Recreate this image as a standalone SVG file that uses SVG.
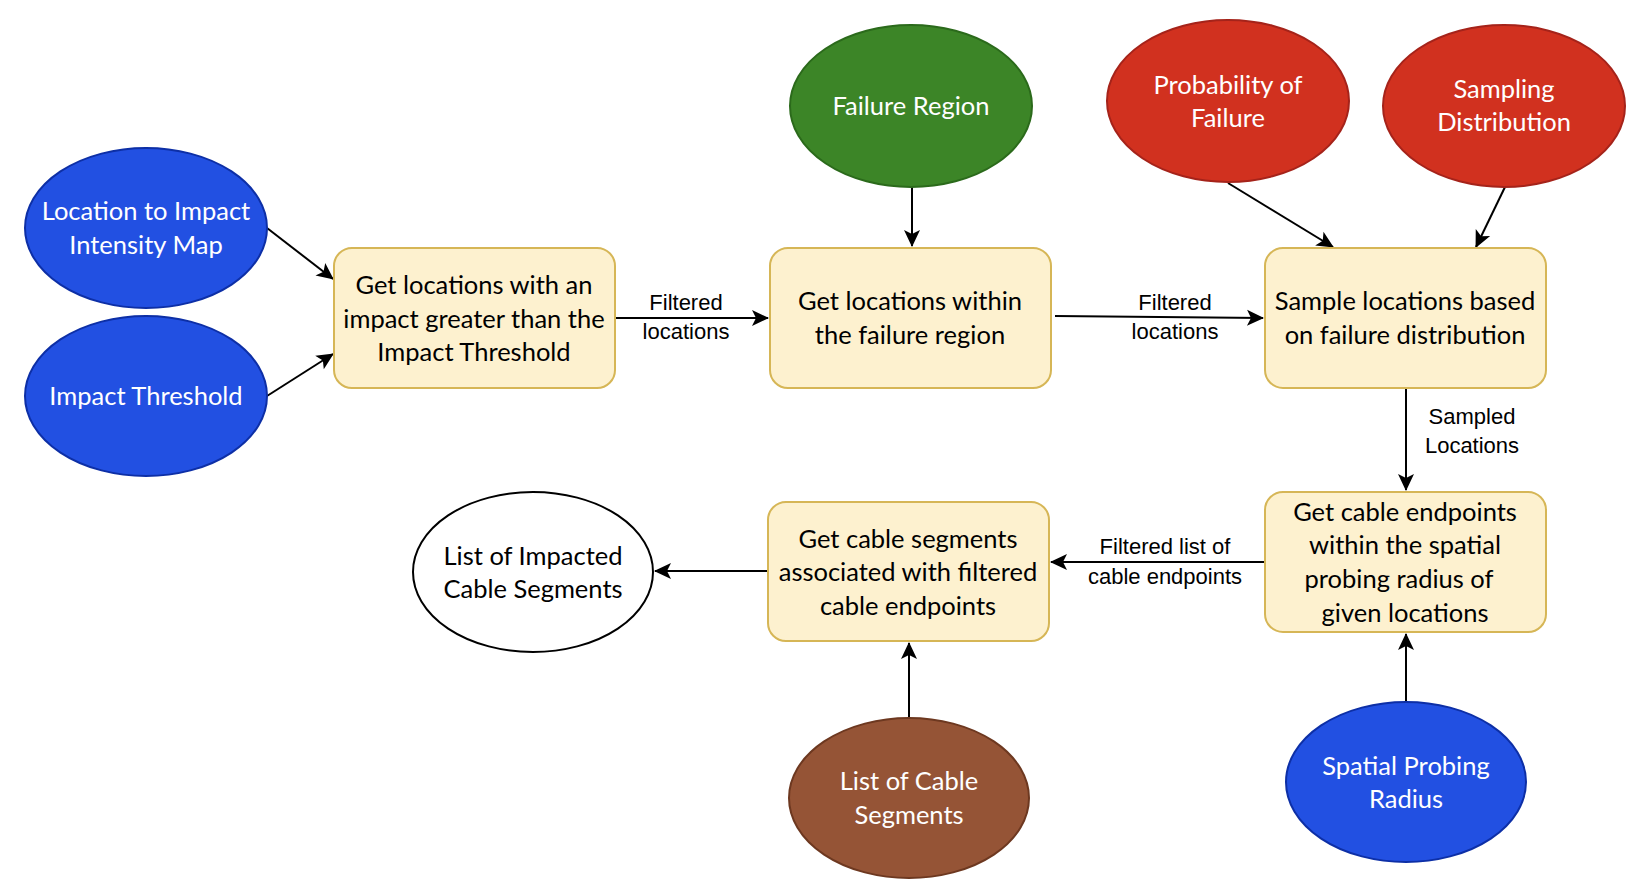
<svg xmlns="http://www.w3.org/2000/svg" width="1638" height="896" viewBox="0 0 1638 896">
<style>
.n{font-family:Lato,"Open Sans","Liberation Sans",sans-serif;font-size:25.5px;text-anchor:middle}
.w{fill:#ffffff}
.k{fill:#000000}
.box{fill:#fdf1cf;stroke:#d6b656;stroke-width:2}
.blue{fill:#2250e2;stroke:#0d2fa6;stroke-width:2}
.red{fill:#d1311f;stroke:#a5231a;stroke-width:2}
.green{fill:#3c8527;stroke:#2b6a1b;stroke-width:2}
.brown{fill:#955436;stroke:#6d3820;stroke-width:2}
.white{fill:#ffffff;stroke:#000000;stroke-width:2}
.e{fill:none;stroke:#000;stroke-width:2;marker-end:url(#a)}
.l{font-family:"Liberation Sans",Arial,sans-serif;font-size:22px;text-anchor:middle;fill:#000}
</style>
<defs>
<marker id="a" viewBox="0 0 10 10" refX="9" refY="5" markerWidth="10" markerHeight="10" markerUnits="userSpaceOnUse" orient="auto" overflow="visible">
<path d="M-7,-3 L10,5 L-7,13 L-3,5 Z" fill="#000"/>
</marker>
</defs>
<rect width="1638" height="896" fill="#fff"/>
<g id="connectors">
<line class="e" x1="267" y1="228" x2="333" y2="279"/>
<line class="e" x1="267" y1="396" x2="333" y2="354"/>
<line class="e" x1="615" y1="318" x2="768" y2="318"/>
<line class="e" x1="1055" y1="316" x2="1263" y2="318"/>
<line class="e" x1="912" y1="186" x2="912" y2="246"/>
<line class="e" x1="1228" y1="183" x2="1333" y2="247"/>
<line class="e" x1="1505" y1="187" x2="1476" y2="247"/>
<line class="e" x1="1406" y1="389" x2="1406" y2="490"/>
<line class="e" x1="1265" y1="562" x2="1051" y2="562"/>
<line class="e" x1="768" y1="571" x2="655" y2="571"/>
<line class="e" x1="909" y1="718" x2="909" y2="643"/>
<line class="e" x1="1406" y1="702" x2="1406" y2="634"/>
<text class="l" x="686" y="310">Filtered</text>
<text class="l" x="686" y="339">locations</text>
<text class="l" x="1175" y="310">Filtered</text>
<text class="l" x="1175" y="339">locations</text>
<text class="l" x="1472" y="424">Sampled</text>
<text class="l" x="1472" y="453">Locations</text>
<text class="l" x="1165" y="554">Filtered list of</text>
<text class="l" x="1165" y="584">cable endpoints</text>
</g>
<g id="loc-map"><ellipse class="blue" cx="146" cy="228" rx="121" ry="80"/><text class="n w" x="146" y="220">Location to Impact</text><text class="n w" x="146" y="254">Intensity Map</text></g>
<g id="impact-threshold"><ellipse class="blue" cx="146" cy="396" rx="121" ry="80"/><text class="n w" x="146" y="405">Impact Threshold</text></g>
<g id="failure-region"><ellipse class="green" cx="911" cy="106" rx="121" ry="81"/><text class="n w" x="911" y="115">Failure Region</text></g>
<g id="prob-failure"><ellipse class="red" cx="1228" cy="101" rx="121" ry="81"/><text class="n w" x="1228" y="94">Probability of</text><text class="n w" x="1228" y="127">Failure</text></g>
<g id="sampling-dist"><ellipse class="red" cx="1504" cy="106" rx="121" ry="81"/><text class="n w" x="1504" y="98">Sampling</text><text class="n w" x="1504" y="131">Distribution</text></g>
<g id="box1"><rect class="box" x="334" y="248" width="281" height="140" rx="18"/><text class="n k" x="474" y="294">Get locations with an</text><text class="n k" x="474" y="328">impact greater than the</text><text class="n k" x="474" y="361">Impact Threshold</text></g>
<g id="box2"><rect class="box" x="770" y="248" width="281" height="140" rx="18"/><text class="n k" x="910" y="310">Get locations within</text><text class="n k" x="910" y="344">the failure region</text></g>
<g id="box3"><rect class="box" x="1265" y="248" width="281" height="140" rx="18"/><text class="n k" x="1405" y="310">Sample locations based</text><text class="n k" x="1405" y="344">on failure distribution</text></g>
<g id="box4"><rect class="box" x="1265" y="492" width="281" height="140" rx="18"/><text class="n k" x="1405" y="521">Get cable endpoints</text><text class="n k" x="1405" y="554">within the spatial</text><text class="n k" x="1399" y="588">probing radius of</text><text class="n k" x="1405" y="622">given locations</text></g>
<g id="box5"><rect class="box" x="768" y="502" width="281" height="139" rx="18"/><text class="n k" x="908" y="548">Get cable segments</text><text class="n k" x="908" y="581">associated with filtered</text><text class="n k" x="908" y="615">cable endpoints</text></g>
<g id="impacted-list"><ellipse class="white" cx="533" cy="572" rx="120" ry="80"/><text class="n k" x="533" y="565">List of Impacted</text><text class="n k" x="533" y="598">Cable Segments</text></g>
<g id="cable-list"><ellipse class="brown" cx="909" cy="798" rx="120" ry="80"/><text class="n w" x="909" y="790">List of Cable</text><text class="n w" x="909" y="824">Segments</text></g>
<g id="spatial-radius"><ellipse class="blue" cx="1406" cy="782" rx="120" ry="80"/><text class="n w" x="1406" y="775">Spatial Probing</text><text class="n w" x="1406" y="808">Radius</text></g>
</svg>
